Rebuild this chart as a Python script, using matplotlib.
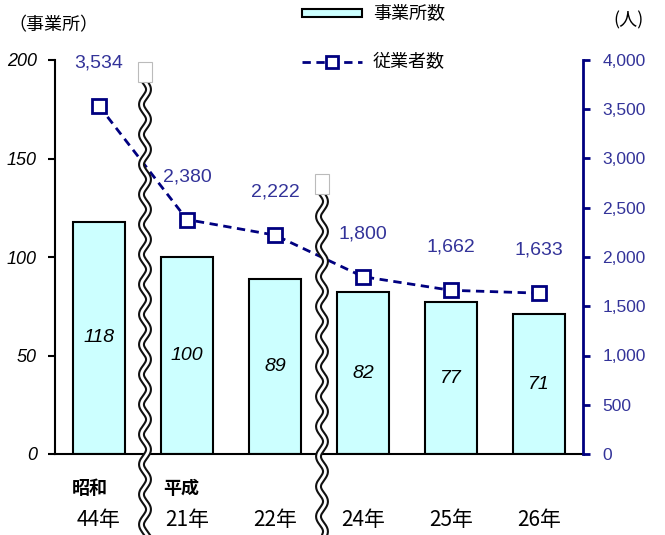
import matplotlib.pyplot as plt
import numpy as np

plt.rcParams['font.family'] = ['Noto Sans CJK JP', 'DejaVu Sans']

years = ['44年', '21年', '22年', '24年', '25年', '26年']
offices = [118, 100, 89, 82, 77, 71]
workers = [3534, 2380, 2222, 1800, 1662, 1633]
worker_labels = ['3,534', '2,380', '2,222', '1,800', '1,662', '1,633']

navy = '#000080'
label_navy = '#333399'
num_font = ['Liberation Sans', 'DejaVu Sans']

fig = plt.figure(figsize=(6.65, 5.35), dpi=100)
ax = fig.add_axes([55/665, 1-454/535, 528/665, 394/535])
x = np.arange(len(years))

ax.bar(x, offices, width=0.59, color='#CCFFFF', edgecolor='black', linewidth=1.5, zorder=2)
for xi, v in zip(x, offices):
    ax.text(xi, v/2, str(v), ha='center', va='center', fontsize=14, style='italic',
            family=num_font, zorder=3)

ax.set_xlim(-0.5, len(years)-0.5)
ax.set_ylim(0, 200)
ax.set_yticks([0, 50, 100, 150, 200])
ax.set_yticklabels(['0', '50', '100', '150', '200'], fontsize=13, style='italic', family=num_font)
ax.set_xticks([])
ax.spines['top'].set_visible(False)
ax.spines['right'].set_visible(False)
ax.spines['left'].set_linewidth(1.5)
ax.spines['bottom'].set_linewidth(1.5)
ax.tick_params(axis='y', length=5, width=1.5, pad=8)

ax2 = ax.twinx()
ax2.plot(x, workers, color=navy, linestyle=(0, (3, 2)), linewidth=2, marker='s',
         markersize=10, markerfacecolor='white', markeredgecolor=navy, markeredgewidth=2, zorder=4)
for xi, v, s in zip(x, workers, worker_labels):
    ax2.annotate(s, (xi, v), xytext=(0, 31), textcoords='offset points', ha='center',
                 va='center', fontsize=14, color=label_navy, family=num_font)
ax2.set_ylim(0, 4000)
ax2.set_yticks(range(0, 4001, 500))
ax2.set_yticklabels([f'{v:,}' for v in range(0, 4001, 500)], fontsize=12.5, family=num_font)
ax2.spines['top'].set_visible(False)
ax2.spines['left'].set_visible(False)
ax2.spines['bottom'].set_visible(False)
ax2.spines['right'].set_color(navy)
ax2.spines['right'].set_linewidth(2)
ax2.tick_params(axis='y', colors=navy, labelcolor=label_navy, length=5, width=2, pad=9)

# wavy break lines (figure pixel coords)
def wave(xc, ytop, ybot):
    yy = np.linspace(ytop, ybot, 400)
    xx = xc + 3.5*np.sin((yy - ytop)/30*2*np.pi)
    fx = xx/665
    fy = 1 - yy/535
    fig.add_artist(plt.Line2D(fx, fy, color='#111111', linewidth=5, zorder=10))
    fig.add_artist(plt.Line2D(fx, fy, color='white', linewidth=2, zorder=11))
    fig.add_artist(plt.Rectangle(((xc-7)/665, 1-ytop/535), 14/665, 20/535, facecolor='white',
                                 edgecolor='#bbbbbb', linewidth=0.8, zorder=12))

wave(145, 82, 535)
wave(322, 194, 535)

fig.text(8/665, 1-25/535, '（事業所）', fontsize=13, va='center', ha='left')
fig.text(613/665, 1-20/535, '(人)', fontsize=13, va='center', ha='left')

# legend
fig.add_artist(plt.Rectangle((302/665, 1-17/535), 60/665, 8/535, facecolor='#CCFFFF',
                             edgecolor='black', linewidth=1.5))
fig.text(373/665, 1-13/535, '事業所数', fontsize=13, va='center')
fig.add_artist(plt.Line2D([302/665, 362/665], [1-62/535, 1-62/535], color=navy,
                          linestyle=(0, (3, 2)), linewidth=2))
fig.add_artist(plt.Line2D([332/665], [1-62/535], color=navy, marker='s', markersize=9,
                          markerfacecolor='white', markeredgewidth=2))
fig.text(373/665, 1-62/535, '従業者数', fontsize=13, va='center')

fig.text(90/665, 1-488/535, '昭和', fontsize=13, fontweight='bold', ha='center', va='center')
fig.text(181/665, 1-488/535, '平成', fontsize=13, fontweight='bold', ha='center', va='center')
for xi, lab in zip(x, years):
    px = 55 + 88*(xi + 0.5)
    fig.text(px/665, 1-520/535, lab, fontsize=15, ha='center', va='center')

fig.savefig('out.png', dpi=100)
